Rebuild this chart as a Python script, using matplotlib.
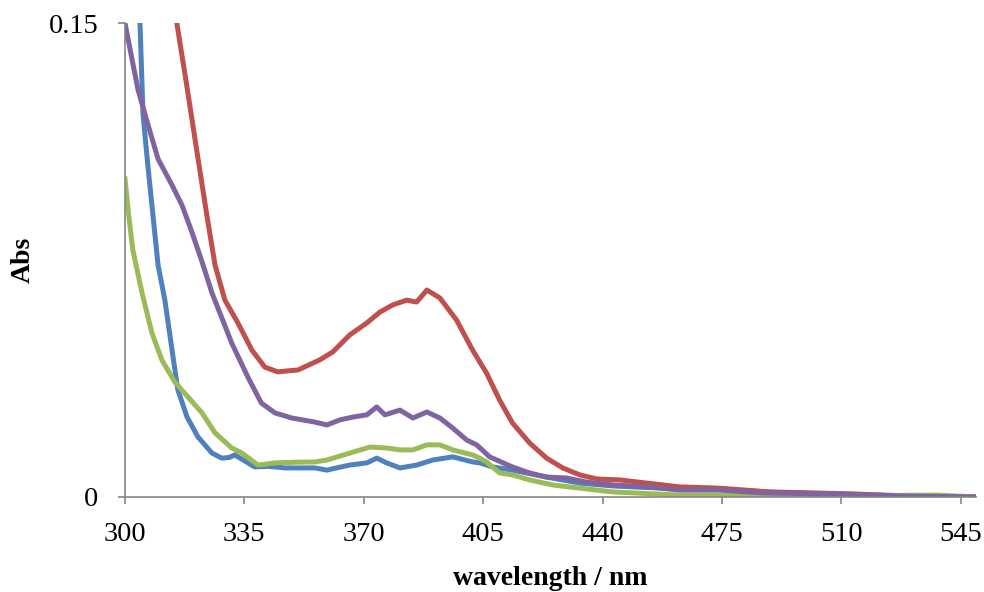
import matplotlib
matplotlib.use("Agg")
import matplotlib.pyplot as plt

# wavelength (nm) / absorbance
blue_x = [303.0, 304.4, 305.3, 306.7, 308.2, 309.7, 311.7, 313.8, 315.5, 318.2, 321.4, 325.5, 328.4,
          330.5, 332.2, 335.0, 338.0, 342.0, 347.0, 351.3, 355.7, 359.2, 362.0, 365.9, 370.9, 373.8,
          376.7, 380.6, 385.5, 390.2, 396.1, 401.9, 404.0, 407.8, 413.6, 423.6, 433.3, 443.0, 452.9,
          462.6, 474.0, 489.0, 510.0, 530.0, 549.5]
blue_y = [0.172, 0.150, 0.121, 0.105, 0.0892, 0.0734, 0.0623, 0.0465, 0.0339, 0.0253, 0.0190, 0.0139, 0.0123,
          0.0125, 0.0133, 0.0115, 0.0095, 0.0097, 0.0092, 0.0092, 0.0092, 0.0085, 0.0092, 0.0101, 0.0108, 0.0123,
          0.0108, 0.0092, 0.0101, 0.0117, 0.0127, 0.0111, 0.0108, 0.0095, 0.0085, 0.0063, 0.0044, 0.0035, 0.0030,
          0.0028, 0.0025, 0.0015, 0.0008, 0.0004, 0.0]

red_x = [313.0, 315.2, 318.0, 321.0, 324.0, 326.4, 329.3, 333.1, 337.2, 341.0, 344.8, 347.5, 350.7, 355.7,
         357.1, 360.9, 365.9, 370.9, 374.7, 378.5, 382.6, 385.5, 388.5, 392.3, 397.2, 401.9, 406.0, 409.8,
         413.6, 418.6, 423.6, 428.3, 433.3, 438.3, 445.0, 452.9, 462.6, 474.0, 489.0, 513.0, 528.0, 549.5]
red_y = [0.165, 0.150, 0.131, 0.110, 0.0892, 0.0734, 0.0623, 0.0551, 0.0465, 0.0411, 0.0396, 0.0399, 0.0402, 0.0427,
         0.0434, 0.0459, 0.0513, 0.0551, 0.0585, 0.0608, 0.0623, 0.0617, 0.0655, 0.0630, 0.0560, 0.0465, 0.0392, 0.0307,
         0.0234, 0.0171, 0.0123, 0.0092, 0.0070, 0.0057, 0.0054, 0.0044, 0.0032, 0.0028, 0.0016, 0.0010, 0.0003, 0.0]

green_x = [300.0, 301.0, 302.3, 305.0, 307.9, 310.8, 314.6, 318.5, 322.6, 326.4, 331.3, 334.3, 339.0, 344.0,
           350.0, 355.7, 359.2, 365.9, 371.8, 376.7, 380.6, 384.4, 388.5, 392.3, 396.1, 401.9, 404.0, 406.0,
           409.8, 413.6, 418.6, 425.4, 433.3, 443.0, 462.6, 479.0, 500.0, 538.0, 549.5]
green_y = [0.101, 0.090, 0.0782, 0.0646, 0.0519, 0.0434, 0.0364, 0.0316, 0.0266, 0.0203, 0.0155, 0.0139, 0.0101, 0.0108,
           0.0110, 0.0111, 0.0117, 0.0139, 0.0158, 0.0155, 0.0149, 0.0149, 0.0165, 0.0165, 0.0149, 0.0133, 0.0123, 0.0111,
           0.0076, 0.0070, 0.0054, 0.0038, 0.0028, 0.0016, 0.0006, 0.0006, 0.0003, 0.0006, 0.0]

purple_x = [300.0, 303.8, 306.7, 309.7, 313.8, 316.7, 319.6, 322.6, 325.5, 331.3, 336.0, 340.0, 344.0, 348.9,
            355.7, 359.2, 363.0, 366.8, 370.9, 373.8, 376.2, 380.6, 384.4, 388.5, 392.3, 396.1, 400.2, 403.1,
            406.9, 409.8, 413.6, 418.6, 423.6, 429.5, 435.3, 443.0, 452.9, 462.6, 474.3, 486.9, 508.5, 527.9, 549.5]
purple_y = [0.150, 0.129, 0.118, 0.107, 0.0987, 0.0924, 0.0839, 0.0744, 0.0646, 0.0487, 0.0380, 0.0297, 0.0266, 0.0250,
            0.0237, 0.0228, 0.0244, 0.0253, 0.0260, 0.0285, 0.0260, 0.0275, 0.0250, 0.0269, 0.0250, 0.0218, 0.0180, 0.0165,
            0.0127, 0.0113, 0.0095, 0.0076, 0.0063, 0.0060, 0.0047, 0.0038, 0.0032, 0.0022, 0.0022, 0.0013, 0.0009, 0.0003, 0.0]

x_ticks = [300, 335, 370, 405, 440, 475, 510, 545]
y_ticks = [0, 0.15]
y_tick_labels = ["0", "0.15"]

plt.rcParams['font.family'] = ['Liberation Serif', 'DejaVu Serif']

fig = plt.figure(figsize=(9.84, 5.92), dpi=100)
ax = fig.add_axes([0.127, 0.1605, 0.865, 0.8005])

lw = 3.6
ax.plot(blue_x, blue_y, color='#4F81BD', lw=lw, solid_joinstyle='round', solid_capstyle='round')
ax.plot(red_x, red_y, color='#C0504D', lw=lw, solid_joinstyle='round', solid_capstyle='round')
ax.plot(green_x, green_y, color='#9BBB59', lw=lw, solid_joinstyle='round', solid_capstyle='round')
ax.plot(purple_x, purple_y, color='#8064A2', lw=lw, solid_joinstyle='round', solid_capstyle='round')

ax.set_xlim(300, 549.5)
ax.set_ylim(0, 0.15)
ax.set_xticks(x_ticks)
ax.set_xticklabels([str(t) for t in x_ticks])
ax.set_yticks(y_ticks)
ax.set_yticklabels(y_tick_labels)

for s in ['top', 'right']:
    ax.spines[s].set_visible(False)
for s in ['left', 'bottom']:
    ax.spines[s].set_color('#868686')
    ax.spines[s].set_linewidth(1.2)
ax.tick_params(axis='both', direction='out', length=5, width=1.2, color='#868686',
               labelsize=20.5, labelcolor='black')
ax.tick_params(axis='x', pad=13)
ax.tick_params(axis='y', pad=14)

ax.set_xlabel('wavelength / nm', fontsize=20, fontweight='bold', va='center')
ax.xaxis.set_label_coords(0.5, -0.171)
ax.set_ylabel('Abs', fontsize=20, fontweight='bold', va='center', ha='center')
ax.yaxis.set_label_coords(-0.119, 0.5)

fig.savefig('out.png', dpi=100)
